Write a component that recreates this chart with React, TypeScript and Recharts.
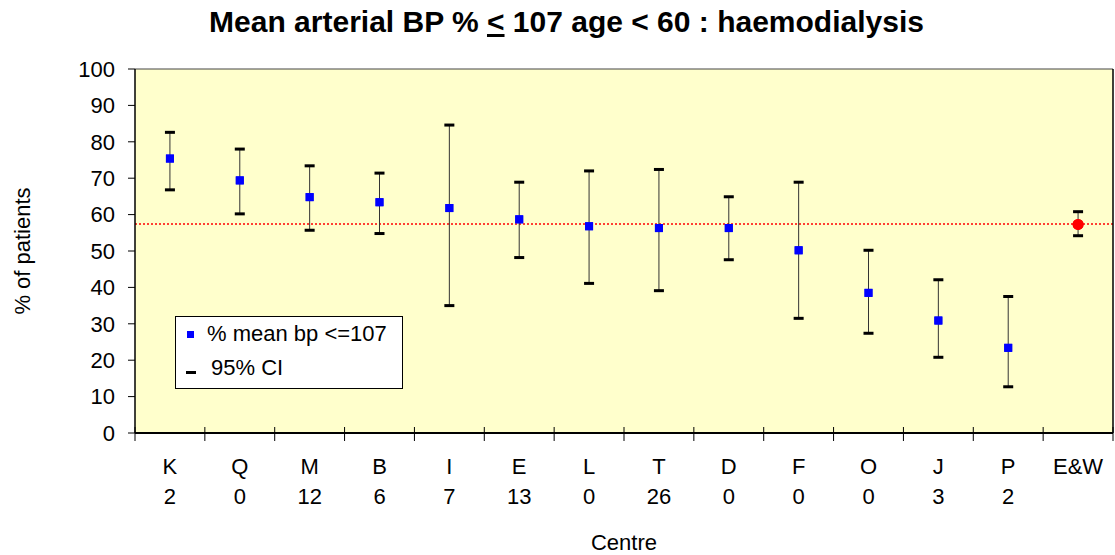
import {
  CartesianGrid,
  ComposedChart,
  ErrorBar,
  Legend,
  ReferenceLine,
  Scatter,
  XAxis,
  YAxis,
} from "recharts";

const centres = ["K", "Q", "M", "B", "I", "E", "L", "T", "D", "F", "O", "J", "P", "E&W"];
const counts = ["2", "0", "12", "6", "7", "13", "0", "26", "0", "0", "0", "3", "2", ""];
const meanPct = [75.4, 69.4, 64.8, 63.4, 61.8, 58.7, 56.8, 56.3, 56.3, 50.2, 38.5, 30.9, 23.4, 57.3];
const lowerCI = [66.8, 60.2, 55.7, 54.8, 35.0, 48.2, 41.1, 39.1, 47.6, 31.5, 27.4, 20.8, 12.7, 54.2];
const upperCI = [82.6, 78.0, 73.4, 71.4, 84.6, 68.9, 72.0, 72.4, 64.9, 68.9, 50.2, 42.1, 37.5, 60.8];
const nationalMean = 57.4;
const yTicks = [0, 10, 20, 30, 40, 50, 60, 70, 80, 90, 100];

const data = centres.map((centre, i) => ({
  centre,
  count: counts[i],
  mean: meanPct[i],
  lower: lowerCI[i],
  upper: upperCI[i],
  err: [meanPct[i] - lowerCI[i], upperCI[i] - meanPct[i]],
}));

const FONT = "Arial, 'Liberation Sans', sans-serif";

function MeanShape(props: any) {
  const { cx, cy, payload } = props;
  if (payload.centre === "E&W") {
    return <circle cx={cx} cy={cy} r={5.5} fill="#ff0000" />;
  }
  return <rect x={cx - 4} y={cy - 4} width={8} height={8} fill="#0000ff" />;
}

function CapShape(props: any) {
  const { cx, cy } = props;
  return <rect x={cx - 5} y={cy - 1.5} width={10} height={3} fill="#000" />;
}

function CentreTick(props: any) {
  const { x, y, payload, index } = props;
  const axisY = y - 8;
  const half = payload.offset || 0;
  return (
    <g>
      <line x1={x - half} x2={x - half} y1={axisY - 6} y2={axisY + 8} stroke="#000" />
      {index === centres.length - 1 && (
        <line x1={x + half} x2={x + half} y1={axisY - 6} y2={axisY + 8} stroke="#000" />
      )}
      <text x={x} y={axisY + 41} textAnchor="middle" fontSize={22} fontFamily={FONT} fill="#000">
        {payload.value}
      </text>
      <text x={x} y={axisY + 71} textAnchor="middle" fontSize={22} fontFamily={FONT} fill="#000">
        {counts[index]}
      </text>
    </g>
  );
}

function LegendBox() {
  return (
    <div
      style={{
        width: 226,
        height: 71,
        border: "1px solid #000",
        background: "#fff",
        fontFamily: FONT,
        fontSize: 22,
        color: "#000",
        position: "relative",
      }}
    >
      <div style={{ position: "absolute", left: 11, top: 14, width: 7, height: 7, background: "#0000ff" }} />
      <div style={{ position: "absolute", left: 31, top: 4, whiteSpace: "nowrap" }}>% mean bp &lt;=107</div>
      <div style={{ position: "absolute", left: 10, top: 54, width: 10, height: 3, background: "#000" }} />
      <div style={{ position: "absolute", left: 35, top: 38, whiteSpace: "nowrap" }}>95% CI</div>
    </div>
  );
}

export default function App() {
  return (
    <div
      style={{
        position: "absolute",
        left: 0,
        top: 0,
        width: 1115,
        height: 555,
        background: "#fff",
        overflow: "hidden",
      }}
    >
      <style>{"html, body { margin: 0; padding: 0; overflow: hidden; }"}</style>
      <div
        style={{
          position: "absolute",
          top: 5,
          left: 0,
          width: 1115,
          paddingLeft: 18,
          boxSizing: "border-box",
          textAlign: "center",
          fontFamily: FONT,
          fontWeight: "bold",
          fontSize: 30,
          color: "#000",
          zIndex: 2,
        }}
      >
        Mean arterial BP % <span style={{ textDecoration: "underline" }}>&lt;</span> 107 age &lt; 60 : haemodialysis
      </div>
      <ComposedChart
        width={1115}
        height={555}
        data={data}
        margin={{ top: 69, right: 0, bottom: 0, left: 0 }}
      >
        <CartesianGrid vertical={false} fill="#ffffcc" stroke="#444" strokeOpacity={1} />
        <XAxis
          dataKey="centre"
          type="category"
          scale="band"
          height={122}
          interval={0}
          tickLine={false}
          tickSize={8}
          tickMargin={0}
          axisLine={{ stroke: "#000", strokeWidth: 2 }}
          tick={<CentreTick />}
          label={{
            content: (p: any) => {
              const vb = p.viewBox || { x: 135, width: 978 };
              const cx = vb.x + vb.width / 2;
              return (
                <text x={cx} y={550} textAnchor="middle" fontSize={22} fontFamily={FONT} fill="#000">
                  Centre
                </text>
              );
            },
          }}
        />
        <YAxis
          yAxisId="l"
          width={135}
          domain={[0, 100]}
          ticks={yTicks}
          interval={0}
          tickSize={7}
          tickMargin={13}
          tickLine={{ stroke: "#000" }}
          axisLine={{ stroke: "#000", strokeWidth: 1.5 }}
          tick={{ fontSize: 22, fontFamily: FONT, fill: "#000" }}
          label={{
            content: (p: any) => {
              const vb = p.viewBox || { y: 69, height: 364 };
              const cy = vb.y + vb.height / 2;
              return (
                <text
                  x={30}
                  y={cy}
                  transform={`rotate(-90 30 ${cy})`}
                  textAnchor="middle"
                  fontSize={22}
                  fontFamily={FONT}
                  fill="#000"
                >
                  % of patients
                </text>
              );
            },
          }}
        />
        <YAxis
          yAxisId="r"
          orientation="right"
          width={2}
          domain={[0, 100]}
          ticks={yTicks}
          tick={false}
          tickLine={false}
          axisLine={{ stroke: "#000", strokeWidth: 1.5 }}
        />
        <ReferenceLine
          yAxisId="l"
          y={nationalMean}
          stroke="#ff0000"
          strokeWidth={1.5}
          strokeDasharray="2 2"
        />
        <Scatter yAxisId="l" dataKey="mean" shape={<MeanShape />} isAnimationActive={false}>
          <ErrorBar dataKey="err" direction="y" width={0} stroke="#333" strokeWidth={1} isAnimationActive={false} />
        </Scatter>
        <Scatter yAxisId="l" dataKey="lower" shape={<CapShape />} isAnimationActive={false} />
        <Scatter yAxisId="l" dataKey="upper" shape={<CapShape />} isAnimationActive={false} />
        <Scatter yAxisId="l" dataKey="mean" shape={<MeanShape />} isAnimationActive={false} />
        <Legend
          layout="vertical"
          align="center"
          verticalAlign="middle"
          content={<LegendBox />}
          wrapperStyle={{ position: "absolute", left: 175, top: 316, width: 228, height: 73 }}
        />
      </ComposedChart>
    </div>
  );
}
